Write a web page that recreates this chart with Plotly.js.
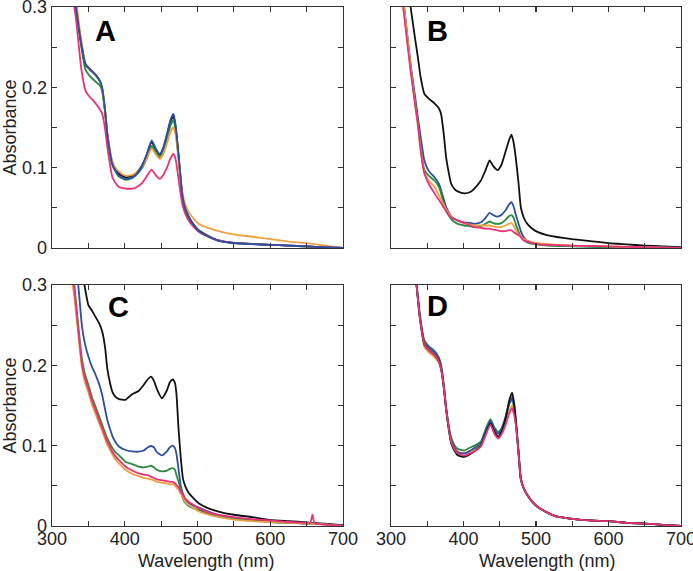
<!DOCTYPE html>
<html>
<head>
<meta charset="utf-8">
<script src="https://cdn.plot.ly/plotly-3.0.1.min.js"></script>
<style>html,body{margin:0;padding:0;background:#fff;}#chart{width:693px;height:571px;}</style>
</head>
<body>
<div id="chart"></div>
<script>
// ---------- Panel A ----------
var wlA = [320,333,340,346,352,360,366,369,373,376,380,383,388,392,401,410,415,424,430,437,443,448,453,458,463,467,470,473,476,479,483,488,495,502,515,529,550,575,600,625,650,675,700];
var A_black  = [0.40,0.30,0.255,0.228,0.222,0.215,0.207,0.198,0.170,0.142,0.118,0.105,0.097,0.0925,0.088,0.090,0.0925,0.103,0.115,0.132,0.122,0.116,0.124,0.140,0.158,0.164,0.150,0.124,0.095,0.068,0.050,0.039,0.029,0.022,0.015,0.0095,0.0065,0.005,0.004,0.003,0.002,0.001,0.0];
var A_blue   = [0.40,0.30,0.256,0.229,0.223,0.216,0.208,0.199,0.171,0.142,0.117,0.104,0.095,0.090,0.086,0.088,0.091,0.103,0.116,0.134,0.123,0.117,0.125,0.142,0.160,0.167,0.152,0.125,0.095,0.067,0.049,0.038,0.028,0.021,0.014,0.009,0.0062,0.0048,0.004,0.003,0.002,0.001,0.0];
var A_green  = [0.40,0.30,0.252,0.222,0.214,0.207,0.202,0.195,0.168,0.140,0.116,0.103,0.094,0.089,0.085,0.087,0.090,0.100,0.111,0.127,0.118,0.113,0.120,0.135,0.153,0.159,0.146,0.121,0.093,0.066,0.049,0.038,0.028,0.021,0.014,0.009,0.0062,0.0048,0.004,0.003,0.002,0.001,0.0];
var A_orange = [0.42,0.31,0.26,0.230,0.223,0.216,0.208,0.199,0.172,0.145,0.121,0.108,0.099,0.095,0.090,0.091,0.093,0.102,0.111,0.124,0.116,0.111,0.117,0.130,0.145,0.150,0.140,0.118,0.093,0.070,0.055,0.045,0.036,0.030,0.025,0.021,0.017,0.014,0.011,0.008,0.006,0.003,0.0];
var A_pink   = [0.36,0.285,0.225,0.196,0.188,0.180,0.172,0.167,0.148,0.126,0.102,0.088,0.080,0.076,0.074,0.074,0.075,0.081,0.089,0.0975,0.090,0.086,0.091,0.100,0.112,0.117,0.110,0.092,0.072,0.055,0.043,0.034,0.026,0.020,0.014,0.0095,0.0065,0.005,0.004,0.003,0.002,0.001,0.0];

// ---------- Panel B ----------
var wlB = [310,318,327,333,337,341,346,352,360,366,369,373,376,380,383,388,392,401,410,415,424,430,436,441,447,452,458,462,466,469,472,476,479,483,488,495,502,515,529,550,575,600,625,650,675,700];
var B_black  = [0.42,0.36,0.30,0.262,0.238,0.212,0.192,0.186,0.180,0.174,0.167,0.140,0.113,0.092,0.080,0.073,0.0705,0.068,0.070,0.074,0.084,0.096,0.109,0.102,0.097,0.103,0.120,0.132,0.141,0.132,0.113,0.080,0.051,0.038,0.030,0.024,0.020,0.016,0.0137,0.011,0.0085,0.006,0.0045,0.003,0.002,0.001];
var B_blue   = [0.36,0.30,0.229,0.19,0.163,0.138,0.109,0.096,0.088,0.080,0.072,0.060,0.051,0.044,0.039,0.036,0.034,0.032,0.031,0.030,0.032,0.037,0.0436,0.041,0.039,0.041,0.047,0.053,0.057,0.052,0.042,0.030,0.021,0.0137,0.009,0.0065,0.005,0.004,0.003,0.0025,0.002,0.0015,0.001,0.0008,0.0005,0.0];
var B_green  = [0.36,0.30,0.226,0.185,0.158,0.128,0.097,0.090,0.084,0.076,0.068,0.055,0.046,0.040,0.036,0.032,0.030,0.028,0.027,0.026,0.027,0.030,0.033,0.031,0.030,0.031,0.035,0.039,0.041,0.038,0.030,0.020,0.014,0.0095,0.007,0.005,0.0046,0.003,0.0025,0.002,0.0015,0.001,0.001,0.0005,0.0003,0.0];
var B_orange = [0.36,0.30,0.226,0.18,0.152,0.122,0.093,0.084,0.076,0.066,0.060,0.053,0.048,0.043,0.039,0.036,0.034,0.031,0.029,0.028,0.028,0.028,0.028,0.027,0.026,0.026,0.028,0.030,0.031,0.028,0.023,0.017,0.014,0.0116,0.009,0.007,0.006,0.005,0.004,0.003,0.0025,0.002,0.0015,0.001,0.0005,0.0];
var B_pink   = [0.35,0.29,0.22,0.18,0.155,0.12,0.093,0.080,0.068,0.060,0.056,0.050,0.046,0.041,0.038,0.036,0.034,0.031,0.028,0.026,0.025,0.024,0.024,0.023,0.022,0.021,0.021,0.022,0.022,0.020,0.018,0.016,0.014,0.0095,0.008,0.006,0.0046,0.004,0.0035,0.003,0.0025,0.002,0.0015,0.001,0.0005,0.0];

// ---------- Panel C ----------
var wlC = [320,330,336,341,345,350,355,360,365,369,373,376,380,383,387,392,401,410,419,426,432,436,440,444,451,458,462,466,469,471,474,477,480,483,488,495,502,515,529,550,575,600,625,650,655,658,661,675,700];
var C_black  = [0.50,0.42,0.36,0.32,0.298,0.275,0.268,0.26,0.252,0.242,0.222,0.196,0.177,0.167,0.161,0.158,0.157,0.164,0.168,0.1755,0.183,0.186,0.181,0.171,0.159,0.169,0.179,0.1826,0.178,0.165,0.120,0.085,0.059,0.050,0.041,0.034,0.028,0.022,0.018,0.014,0.011,0.0075,0.006,0.0045,0.004,0.004,0.004,0.003,0.001];
var C_blue   = [0.40,0.33,0.30,0.25,0.228,0.211,0.198,0.188,0.176,0.163,0.145,0.132,0.120,0.112,0.105,0.099,0.0946,0.093,0.0925,0.094,0.098,0.0996,0.098,0.092,0.088,0.093,0.098,0.100,0.097,0.090,0.070,0.050,0.040,0.034,0.029,0.025,0.023,0.018,0.0137,0.010,0.0075,0.005,0.004,0.003,0.003,0.003,0.003,0.002,0.0];
var C_green  = [0.36,0.305,0.25,0.209,0.19,0.1755,0.16,0.148,0.136,0.126,0.116,0.109,0.102,0.097,0.092,0.088,0.080,0.077,0.074,0.073,0.074,0.075,0.073,0.070,0.068,0.069,0.071,0.072,0.070,0.0635,0.055,0.045,0.034,0.029,0.025,0.022,0.020,0.015,0.0116,0.009,0.007,0.005,0.004,0.003,0.003,0.003,0.003,0.002,0.0];
var C_orange = [0.34,0.29,0.24,0.198,0.18,0.166,0.151,0.139,0.127,0.118,0.108,0.101,0.094,0.089,0.083,0.078,0.070,0.065,0.062,0.060,0.059,0.058,0.057,0.055,0.054,0.053,0.052,0.052,0.050,0.048,0.045,0.040,0.035,0.030,0.026,0.022,0.018,0.014,0.011,0.008,0.006,0.005,0.004,0.003,0.003,0.003,0.003,0.002,0.0];
var C_pink   = [0.35,0.30,0.245,0.2025,0.185,0.171,0.156,0.144,0.131,0.122,0.112,0.105,0.098,0.0925,0.087,0.082,0.074,0.069,0.0656,0.064,0.063,0.0614,0.060,0.058,0.057,0.056,0.055,0.055,0.053,0.051,0.048,0.043,0.0386,0.034,0.030,0.026,0.022,0.017,0.0137,0.011,0.0085,0.007,0.005,0.004,0.004,0.014,0.003,0.002,0.0];

// ---------- Panel D ----------
var wlD = [320,333,340,346,352,360,366,369,373,376,380,383,388,392,401,410,415,424,430,437,443,448,453,458,463,467,470,473,476,479,483,488,495,502,515,529,550,575,600,625,650,675,700];
var D_black  = [0.42,0.32,0.258,0.226,0.219,0.213,0.205,0.196,0.171,0.145,0.118,0.103,0.093,0.088,0.086,0.090,0.093,0.100,0.113,0.128,0.117,0.111,0.118,0.134,0.156,0.166,0.152,0.124,0.091,0.059,0.047,0.0386,0.030,0.024,0.017,0.0116,0.009,0.007,0.006,0.004,0.003,0.0015,0.0];
var D_blue   = [0.42,0.32,0.260,0.229,0.222,0.216,0.208,0.199,0.173,0.147,0.121,0.107,0.097,0.092,0.090,0.094,0.097,0.103,0.117,0.131,0.120,0.115,0.121,0.134,0.152,0.160,0.148,0.122,0.091,0.059,0.047,0.0386,0.030,0.024,0.017,0.0116,0.009,0.007,0.006,0.004,0.003,0.0015,0.0];
var D_green  = [0.42,0.32,0.262,0.231,0.224,0.218,0.210,0.201,0.175,0.148,0.123,0.110,0.100,0.096,0.094,0.098,0.100,0.105,0.119,0.133,0.122,0.117,0.123,0.136,0.152,0.157,0.146,0.121,0.090,0.059,0.047,0.0386,0.030,0.024,0.017,0.0116,0.009,0.007,0.006,0.004,0.003,0.0015,0.0];
var D_orange = [0.42,0.32,0.256,0.223,0.216,0.210,0.203,0.195,0.171,0.146,0.120,0.106,0.096,0.092,0.091,0.094,0.096,0.101,0.114,0.127,0.116,0.110,0.116,0.128,0.143,0.150,0.140,0.119,0.089,0.059,0.047,0.0386,0.030,0.024,0.017,0.0116,0.009,0.007,0.006,0.004,0.003,0.0015,0.0];
var D_pink   = [0.42,0.32,0.258,0.227,0.219,0.213,0.205,0.196,0.172,0.146,0.120,0.105,0.095,0.0905,0.0875,0.091,0.093,0.099,0.112,0.126,0.114,0.109,0.115,0.126,0.140,0.146,0.138,0.120,0.090,0.059,0.047,0.0386,0.030,0.024,0.017,0.0116,0.009,0.007,0.006,0.004,0.003,0.0015,0.0];

var seriesColors = {black:'#111111', blue:'#2a4fa3', green:'#2b8a40', orange:'#f0a040', pink:'#e8337a'};
var xTickVals = [300,350,400,450,500,550,600,650,700];
var xTickText = ['300','','400','','500','','600','','700'];
var yTickVals = [0,0.05,0.1,0.15,0.2,0.25,0.3];
var yTickText = ['0','','0.1','','0.2','','0.3'];
var panelLabels = ['A','B','C','D'];
var xTitle = 'Wavelength (nm)';
var yTitle = 'Absorbance';

var panels = [
  {wl: wlA, s: [['black',A_black],['green',A_green],['orange',A_orange],['pink',A_pink],['blue',A_blue]]},
  {wl: wlB, s: [['black',B_black],['blue',B_blue],['green',B_green],['orange',B_orange],['pink',B_pink]]},
  {wl: wlC, s: [['black',C_black],['blue',C_blue],['green',C_green],['orange',C_orange],['pink',C_pink]]},
  {wl: wlD, s: [['orange',D_orange],['green',D_green],['blue',D_blue],['black',D_black],['pink',D_pink]]}
];

var traces = [];
panels.forEach(function(p, i){
  var ax = i === 0 ? '' : String(i+1);
  p.s.forEach(function(pair){
    traces.push({
      x: p.wl, y: pair[1], type:'scatter', mode:'lines',
      xaxis:'x'+ax, yaxis:'y'+ax,
      line:{color: seriesColors[pair[0]], width:1.8, shape:'spline', smoothing:0.5},
      hoverinfo:'skip', showlegend:false
    });
  });
});

var fam = 'Liberation Sans, Arial, sans-serif';
var font = {family: fam, size:18, color:'#222'};
var xDom = [[52/693, 343/693],[391/693, 681/693]];
var yDom = [[1-248/571, 1-7/571],[1-526/571, 1-285/571]];

function xaxis(i){
  var bottom = i >= 2;
  return {domain: xDom[i%2], range:[300,700], anchor: 'y'+(i===0?'':String(i+1)),
    tickmode:'array', tickvals:xTickVals, ticktext:xTickText, ticks:'inside', ticklen:5, tickwidth:1.2, tickcolor:'#333',
    showline:true, linecolor:'#333', linewidth:1.4, mirror:'ticks', showgrid:false, zeroline:false,
    showticklabels: bottom, tickfont: font, ticklabeloverflow:'allow', ticklabelstandoff:-4, fixedrange:true};
}
function yaxis(i){
  var left = i%2 === 0;
  var a = {domain: yDom[i<2?0:1], range:[0,0.3], anchor: 'x'+(i===0?'':String(i+1)),
    tickmode:'array', tickvals:yTickVals, ticktext:yTickText, ticks:'inside', ticklen:5, tickwidth:1.2, tickcolor:'#333',
    showline:true, linecolor:'#333', linewidth:1.4, mirror:'ticks', showgrid:false, zeroline:false,
    showticklabels: left, tickfont: font, ticklabeloverflow:'allow', fixedrange:true};
  if (left) a.title = {text: yTitle, font: font, standoff:2};
  return a;
}

var labelPos = [[356,0.270],[347,0.270],[374,0.272],[347,0.274]];
var annotations = panelLabels.map(function(t, i){
  var ax = i === 0 ? '' : String(i+1);
  return {text:'<b>'+t+'</b>', x: labelPos[i][0], y: labelPos[i][1], xref:'x'+ax, yref:'y'+ax,
    xanchor:'left', yanchor:'middle', showarrow:false,
    font:{family: fam, size:29, color:'#000'}};
});
// x-axis titles of the bottom row
[[206/693],[547/693]].forEach(function(p){
  annotations.push({text: xTitle, x: p[0], y: 1-561/571, xref:'paper', yref:'paper',
    xanchor:'center', yanchor:'middle', showarrow:false, font: font});
});

var layout = {
  width:693, height:571, margin:{l:0,r:0,t:0,b:0}, paper_bgcolor:'#fff', plot_bgcolor:'#fff',
  showlegend:false, annotations: annotations, font: font
};
for (var i=0;i<4;i++){
  var k = i===0 ? '' : String(i+1);
  layout['xaxis'+k] = xaxis(i);
  layout['yaxis'+k] = yaxis(i);
}

Plotly.newPlot('chart', traces, layout, {staticPlot:true, displayModeBar:false});
</script>
</body>
</html>
